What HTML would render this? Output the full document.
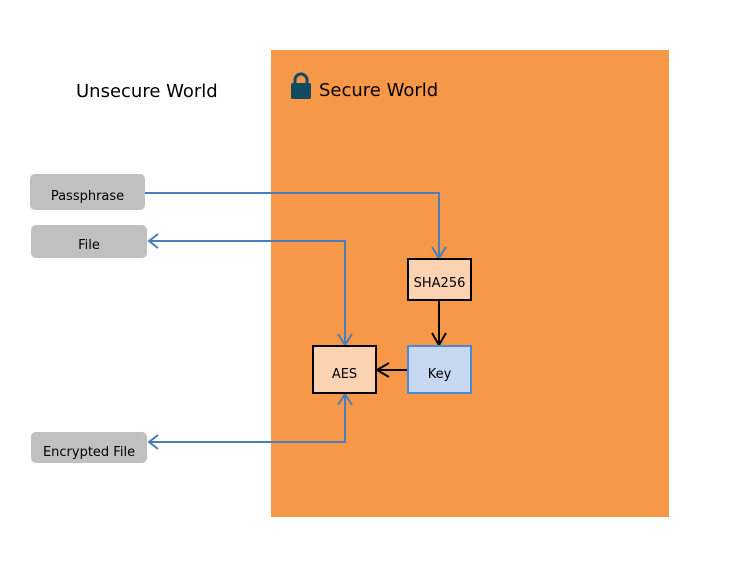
<!DOCTYPE html>
<html><head><meta charset="utf-8"><style>
html,body{margin:0;padding:0;background:#fff;}
svg{display:block;font-family:"DejaVu Sans","Liberation Sans",sans-serif;}
</style></head><body>
<svg width="755" height="588" viewBox="0 0 755 588" xmlns="http://www.w3.org/2000/svg">
<rect x="271" y="50" width="398" height="467" fill="#f79848"/>
<text x="76" y="97" font-size="18" fill="#000">Unsecure World</text>
<g fill="#124a62">
<path d="M295 84 v-4 a6 6 0 0 1 12 0 v4" fill="none" stroke="#124a62" stroke-width="3"/>
<rect x="291" y="83" width="20" height="16" rx="2"/>
</g>
<text x="319" y="96" font-size="18" fill="#000">Secure World</text>
<rect x="30" y="174" width="115" height="36" rx="5" fill="#c0c0c0"/>
<text x="87.5" y="200" font-size="13" text-anchor="middle">Passphrase</text>
<rect x="31" y="225" width="116" height="33" rx="5" fill="#c0c0c0"/>
<text x="89" y="249" font-size="13" text-anchor="middle">File</text>
<rect x="31" y="432" width="116" height="31" rx="5" fill="#c0c0c0"/>
<text x="89" y="456" font-size="13" text-anchor="middle">Encrypted File</text>
<g fill="none" stroke="#4a7ebb" stroke-width="2">
<path d="M145 193 H439 V258"/>
<path d="M432 247 L439 258 L446 247"/>
<path d="M149 241 H345 V345"/>
<path d="M158 234 L149 241 L158 248"/>
<path d="M338 334 L345 345 L352 334"/>
<path d="M345 394 V442 H149"/>
<path d="M158 435 L149 442 L158 449"/>
<path d="M338 405 L345 394 L352 405"/>
</g>
<g fill="none" stroke="#000" stroke-width="2">
<path d="M439 300 V345"/>
<path d="M432 333 L439 345 L446 333"/>
<path d="M408 370 H377"/>
<path d="M389 363 L377 370 L389 377"/>
</g>
<rect x="408" y="259" width="63" height="41" fill="#fcd3b2" stroke="#000" stroke-width="2"/>
<text x="439.5" y="287" font-size="13" text-anchor="middle">SHA256</text>
<rect x="408" y="346" width="63" height="47" fill="#c6d9f1" stroke="#4a8ad4" stroke-width="2"/>
<text x="439.5" y="378" font-size="13" text-anchor="middle">Key</text>
<rect x="313" y="346" width="63" height="47" fill="#fcd3b2" stroke="#000" stroke-width="2"/>
<text x="344.5" y="378" font-size="13" text-anchor="middle">AES</text>
</svg>
</body></html>
